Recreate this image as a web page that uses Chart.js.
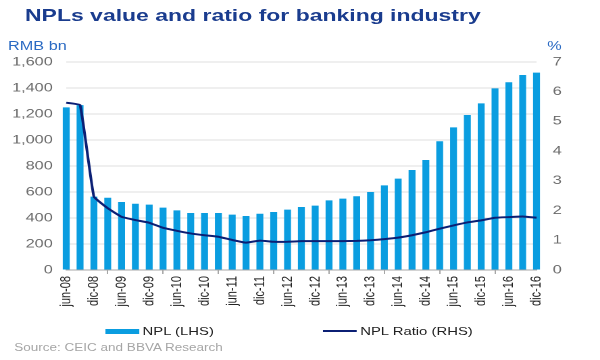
<!DOCTYPE html>
<html>
<head>
<meta charset="utf-8">
<script src="https://cdn.jsdelivr.net/npm/chart.js@4/dist/chart.umd.min.js"></script>
<style>
  body { margin: 0; background: #fff; overflow: hidden; }
  /* the reference is stretched sideways, so draw narrow and widen it */
  #wrap { position: absolute; left: 0; top: 0; width: 444px; height: 360px;
          transform: scaleX(1.3514); transform-origin: 0 0;
          font-family: 'Liberation Sans', Arial, sans-serif; }
  #wrap div { position: absolute; white-space: nowrap; }
  #stockChart { position: absolute; left: 0; top: 0; }
  .title { left: 18.5px; top: 7px; font-size: 17px; line-height: 17px; font-weight: bold; color: #1a3c8e; }
  .unit { top: 40px; font-size: 12px; line-height: 12px; color: #2a6ac3; }
  .leg { top: 326px; font-size: 11px; line-height: 11px; color: #222; }
  .source { left: 10.5px; top: 343px; font-size: 10px; line-height: 10px; color: #a6a6a6; }
</style>
</head>
<body>
<div id="wrap">
  <canvas id="stockChart" width="444" height="360"></canvas>
  <div class="title">NPLs value and ratio for banking industry</div>
  <div class="unit" style="left:6px">RMB bn</div>
  <div class="unit" style="left:405px">%</div>
  <div style="left:78px;top:328.5px;width:25px;height:5px;background:#0a9de0"></div>
  <div class="leg" style="left:105.5px">NPL (LHS)</div>
  <div style="left:239px;top:330px;width:25px;height:2px;background:#0b1f74"></div>
  <div class="leg" style="left:266.5px">NPL Ratio (RHS)</div>
  <div class="source">Source: CEIC and BBVA Research</div>
</div>
<script>
const quarters = [
    'jun-08', 'sep-08', 'dic-08',
    'mar-09', 'jun-09', 'sep-09', 'dic-09',
    'mar-10', 'jun-10', 'sep-10', 'dic-10',
    'mar-11', 'jun-11', 'sep-11', 'dic-11',
    'mar-12', 'jun-12', 'sep-12', 'dic-12',
    'mar-13', 'jun-13', 'sep-13', 'dic-13',
    'mar-14', 'jun-14', 'sep-14', 'dic-14',
    'mar-15', 'jun-15', 'sep-15', 'dic-15',
    'mar-16', 'jun-16', 'sep-16', 'dic-16'
];

// NPL, RMB bn (left axis)
const nplValue = [
    1251, 1268, 564,
    556, 523, 510, 503,
    480, 459, 438, 438,
    438, 426, 415, 433,
    446, 464, 485, 495,
    536, 549, 567, 600,
    651, 703, 769, 846,
    990, 1097, 1192, 1282,
    1397, 1444, 1500, 1518
];

// NPL ratio, % (right axis)
const nplRatio = [
    5.63, 5.55, 2.47,
    2.08, 1.79, 1.68, 1.59,
    1.42, 1.32, 1.23, 1.17,
    1.12, 1.01, 0.92, 0.99,
    0.95, 0.95, 0.97, 0.97,
    0.97, 0.97, 0.98, 1.00,
    1.04, 1.09, 1.17, 1.27,
    1.39, 1.50, 1.60, 1.67,
    1.76, 1.78, 1.80, 1.76
];

Chart.defaults.font.family = "'Liberation Sans', Arial, sans-serif";

const ctx = document.getElementById('stockChart').getContext('2d');
const nplChart = new Chart(ctx, {
    type: 'bar',
    data: {
        labels: quarters,
        datasets: [
            {
                type: 'line', label: 'NPL Ratio (RHS)', data: nplRatio, yAxisID: 'y1',
                borderColor: '#0b1f74', borderWidth: 2, pointRadius: 0,
                tension: 0.1, order: 0
            },
            {
                label: 'NPL (LHS)', data: nplValue, yAxisID: 'y',
                backgroundColor: '#0a9de0', barPercentage: 0.5, categoryPercentage: 1,
                clip: false, order: 1
            }
        ]
    },
    options: {
        responsive: false,
        devicePixelRatio: 2,
        animation: false,
        layout: {padding: {top: 62, left: 0, right: 0, bottom: 0}},
        plugins: {legend: {display: false}, tooltip: {enabled: false}},
        scales: {
            x: {
                offset: false,
                grid: {
                    drawOnChartArea: false, drawTicks: true, tickLength: 4,
                    color: (c) => c.index % 2 === 0 ? '#a6a6a6' : 'rgba(0,0,0,0)'
                },
                border: {display: true, color: '#a6a6a6'},
                ticks: {
                    autoSkip: false, minRotation: 90, maxRotation: 90, padding: 2,
                    color: '#222', font: {size: 11},
                    callback: (v, i) => i % 2 === 0 ? quarters[i] : null
                },
                afterFit: (s) => { s.height = 90; }
            },
            y: {
                position: 'left', min: 0, max: 1600,
                grid: {color: '#dedede', drawTicks: false},
                border: {display: false},
                ticks: {
                    stepSize: 200, padding: 10, color: '#6b6b6b', font: {size: 12},
                    callback: (v) => v.toLocaleString('en-US')
                },
                afterFit: (s) => { s.width = 49; }
            },
            y1: {
                position: 'right', min: 0, max: 7,
                grid: {drawOnChartArea: false, drawTicks: false},
                border: {display: false},
                ticks: {stepSize: 1, padding: 12, color: '#6b6b6b', font: {size: 12}},
                afterFit: (s) => { s.width = 47; }
            }
        }
    }
});
</script>
</body>
</html>
